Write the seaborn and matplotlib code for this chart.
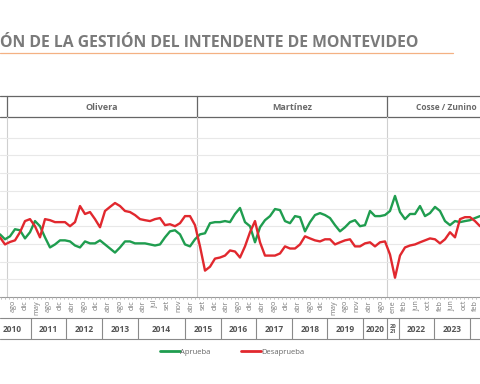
import numpy as np
import pandas as pd
import matplotlib
matplotlib.use("Agg")
import matplotlib.pyplot as plt
import seaborn as sns
from matplotlib.lines import Line2D

# ---------------- data (percent) ----------------
aprueba = [35.4, 32.6, 34.3, 38.3, 37.7, 33.1, 36.6, 42.9, 40.0, 33.7,
           28.0, 29.7, 32.0, 32.0, 31.4, 29.1, 28.0, 31.4, 30.3, 30.3,
           32.0, 29.7, 27.4, 25.1, 28.0, 31.4, 31.4, 30.3, 30.3, 30.3,
           29.7, 29.1, 29.7, 33.7, 37.1, 37.7, 35.4, 29.7, 28.6, 32.6,
           35.4, 36.0, 41.7, 42.3, 42.3, 42.9, 42.3, 46.9, 50.3, 42.3,
           40.0, 30.9, 39.4, 43.4, 45.7, 49.7, 49.1, 42.9, 41.7, 45.7,
           45.1, 37.1, 42.3, 46.3, 47.4, 46.3, 44.6, 40.6, 37.1, 39.4,
           42.3, 43.4, 40.0, 40.6, 48.6, 45.7, 45.7, 46.3, 48.6, 57.1,
           48.0, 44.0, 46.9, 46.9, 51.4, 45.7, 47.4, 50.9, 48.6, 42.9,
           40.6, 42.9, 42.3, 42.9, 43.4, 44.6, 45.7]
desaprueba = [33.7, 29.7, 31.1, 32.0, 36.6, 42.9, 44.0, 40.0, 33.7, 44.0,
              43.4, 42.3, 42.3, 42.3, 40.0, 42.3, 51.4, 46.9, 48.0, 44.0,
              39.4, 48.6, 50.9, 53.1, 51.4, 48.6, 48.0, 46.3, 44.0, 43.4,
              42.9, 44.0, 44.6, 40.6, 41.1, 40.0, 41.7, 45.7, 45.7, 40.6,
              28.6, 14.9, 17.1, 21.7, 22.3, 23.4, 26.3, 25.7, 22.3, 28.6,
              36.6, 42.9, 30.9, 23.4, 23.4, 23.4, 24.6, 28.6, 27.4, 27.4,
              29.7, 34.3, 33.1, 32.0, 31.4, 32.6, 32.6, 29.7, 30.9, 32.0,
              32.6, 28.6, 28.6, 30.3, 30.9, 28.6, 30.9, 31.4, 24.0, 10.9,
              23.4, 28.0, 29.1, 29.7, 30.9, 32.0, 33.1, 32.6, 30.3, 32.6,
              36.6, 33.7, 44.0, 45.1, 45.1, 42.9, 40.0]

meses = ["ago", "dic", "may", "ago", "dic", "abr", "ago", "dic", "abr", "ago",
         "dic", "abr", "jul", "set", "nov", "abr", "set", "dic", "abr", "ago",
         "dic", "abr", "ago", "dic", "abr", "ago", "dic", "may", "ago", "nov",
         "abr", "ago", "ene", "feb", "jun", "oct", "feb", "jun", "oct", "feb"]
anios = ["2010", "2011", "2012", "2013", "2014", "2015", "2016", "2017",
         "2018", "2019", "2020", "20\n21", "2022", "2023", ""]
anios_n = [2, 3, 3, 3, 4, 3, 3, 3, 3, 3, 2, 1, 3, 3, 3]
intendentes = ["Olivera", "Martínez", "Cosse / Zunino"]
intendentes_n = [16, 16, 23]

# ---------------- layout helpers ----------------
W, H = 480, 384
P0, STEP = 12.93, 11.87          # pixel position of first label, label spacing
K0, K1 = (0 - P0) / STEP, (W - P0) / STEP

def k_of_px(p):
    return (p - P0) / STEP

def fy(py):
    return 1 - py / H

GREEN = "#1f9d4f"
RED = "#e1282e"

sns.set_theme(style="white")
plt.rcParams["font.family"] = ["Open Sans", "DejaVu Sans"]

fig = plt.figure(figsize=(W / 100, H / 100), dpi=100)

# overlay axes in (label units, pixel y)
ov = fig.add_axes([0, 0, 1, 1], zorder=0)
ov.set_xlim(K0, K1)
ov.set_ylim(H, 0)
ov.axis("off")

# main data axes
PT, PB = 120, 297
ax = fig.add_axes([0, fy(PB), 1, (PB - PT) / H], zorder=1)
ax.patch.set_alpha(0)

n = len(aprueba)
xs = k_of_px(5 * np.arange(n))
df = pd.DataFrame({
    "x": np.concatenate([xs, xs]),
    "valor": aprueba + desaprueba,
    "serie": ["Aprueba"] * n + ["Desaprueba"] * n,
})
sns.lineplot(data=df, x="x", y="valor", hue="serie",
             palette={"Aprueba": GREEN, "Desaprueba": RED},
             linewidth=1.7, ax=ax, legend=False,
             solid_joinstyle="round", solid_capstyle="round")
ax.set_xlim(K0, K1)
ax.set_ylim(0, 100)
ax.set_yticks(np.arange(10, 100, 10))
ax.grid(axis="y", color="#e8e8e8", linewidth=0.8)
ax.grid(axis="x", visible=False)
ax.set_xticks([])
ax.set_yticklabels([])
ax.tick_params(left=False, bottom=False)
ax.set_xlabel("")
ax.set_ylabel("")
for s in ax.spines.values():
    s.set_visible(False)

# period separators and header
bounds = [-0.5]
for c in intendentes_n:
    bounds.append(bounds[-1] + c)
HT, HB = 96, 117
ov.plot([K0, K1], [HT, HT], color="#666666", lw=0.9)
ov.plot([K0, K1], [HB, HB], color="#666666", lw=0.9)
for b in bounds[:-1]:
    ov.plot([b, b], [HT, HB], color="#666666", lw=0.9)
    ov.plot([b, b], [HB, PB], color="#cfcfcf", lw=0.8)
for i, (name, a, b) in enumerate(zip(intendentes, bounds[:-1], bounds[1:])):
    if i < 2:
        ov.text((a + b) / 2, (HT + HB) / 2 + 0.5, name, ha="center", va="center",
                fontsize=6.5, fontweight="bold", color="#6a6a6a")
    else:
        ov.text(k_of_px(477), (HT + HB) / 2 + 0.5, name, ha="right", va="center",
                fontsize=6.0, fontweight="bold", color="#6a6a6a")

# month label row
ov.plot([K0, K1], [PB, PB], color="#9a9a9a", lw=0.8)
for t in np.arange(np.ceil(K0 * 3) / 3, K1, 1 / 3):
    ov.plot([t, t], [PB, PB + 2.2], color="#b0b0b0", lw=0.5)
for k, m in enumerate(meses):
    ov.text(k, PB + 3, m, rotation=90, ha="center", va="top",
            fontsize=5.2, color="#7a7a7a")

# year row
YT, YB = 318, 339
ov.plot([K0, K1], [YT, YT], color="#8a8a8a", lw=0.8)
ov.plot([K0, K1], [YB, YB], color="#8a8a8a", lw=0.8)
start = -0.5
for i, (y, c) in enumerate(zip(anios, anios_n)):
    end = start + c
    ov.plot([end, end], [YT, YB], color="#8a8a8a", lw=0.8)
    cx = (start + end) / 2 if i > 0 else k_of_px(12)
    fs = 4.2 if "\n" in y else 6.0
    ov.text(cx, (YT + YB) / 2 + 0.5, y, ha="center", va="center",
            fontsize=fs, fontweight="bold", color="#555555", linespacing=0.9)
    start = end

# title and orange rule
fig.text(0.0, fy(43), "ÓN DE LA GESTIÓN DEL INTENDENTE DE MONTEVIDEO",
         ha="left", va="center", fontsize=11.3, fontweight="bold", color="#7a7a7a")
ov.plot([K0, k_of_px(453)], [53, 53], color="#f4b183", lw=0.9)

# legend
handles = [Line2D([], [], color=GREEN, lw=2), Line2D([], [], color=RED, lw=2)]
fig.legend(handles, ["Aprueba", "Desaprueba"], loc="center",
           bbox_to_anchor=(232 / W, fy(352)), ncol=2, frameon=False,
           fontsize=5.5, handlelength=2.6, handletextpad=0.0,
           columnspacing=4.0, labelcolor="#666666")

fig.savefig("out.png", dpi=100)
